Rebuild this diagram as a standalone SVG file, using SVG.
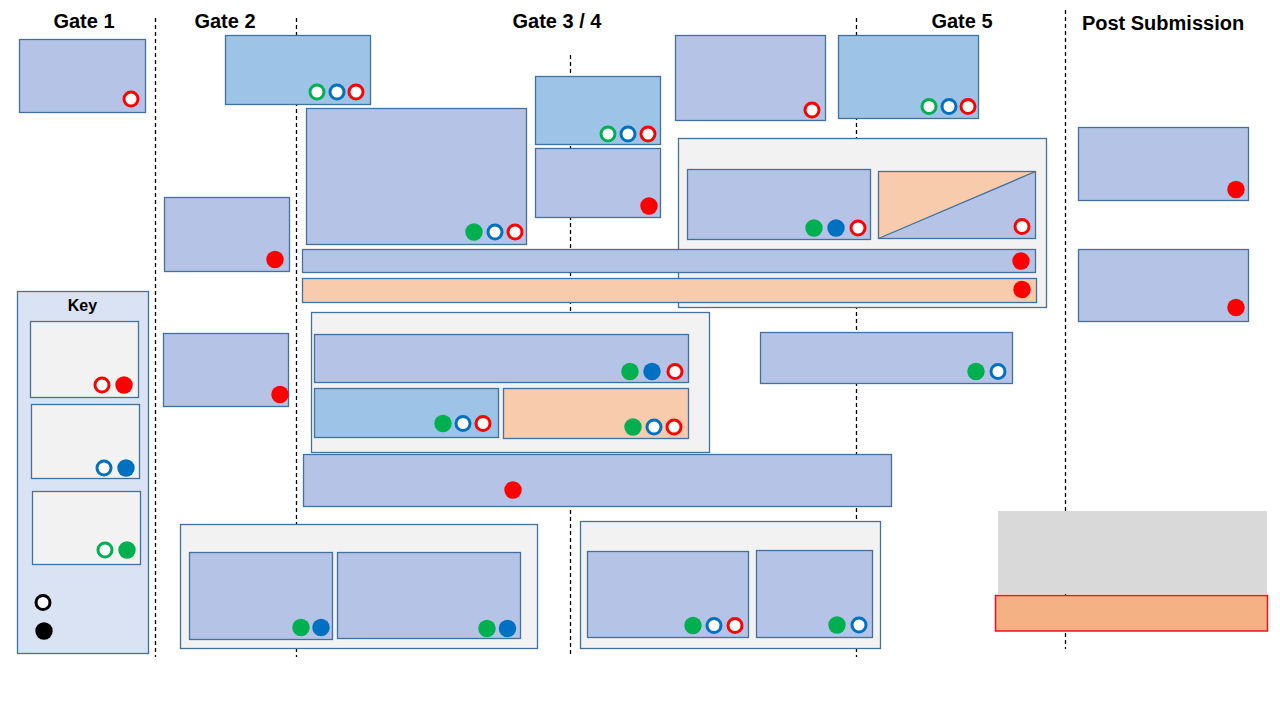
<svg xmlns="http://www.w3.org/2000/svg" width="1280" height="720" viewBox="0 0 1280 720">
<style>
.hdr{font-family:"Liberation Sans",Arial,sans-serif;font-weight:bold;font-size:20px;fill:#000;text-anchor:middle}
.key{font-family:"Liberation Sans",Arial,sans-serif;font-weight:bold;font-size:16px;fill:#000;text-anchor:middle}
.div{stroke:#000;stroke-width:1.3;stroke-dasharray:4 3;fill:none}
.p{fill:#B4C3E6;stroke:#41719C;stroke-width:1.3}
.lb{fill:#9DC3E6;stroke:#41719C;stroke-width:1.3}
.pe{fill:#F8CBAD;stroke:#41719C;stroke-width:1.3}
.ct{fill:#F2F2F2;stroke:#41719C;stroke-width:1.3}
.kb{fill:#DAE3F3;stroke:#41719C;stroke-width:1.3}
.ro{fill:#fff;stroke:#FF0000;stroke-width:3}
.bo{fill:#fff;stroke:#0070C0;stroke-width:3}
.go{fill:#fff;stroke:#00B050;stroke-width:3}
.ko{fill:#fff;stroke:#000;stroke-width:3}
.rf{fill:#FF0000}
.bf{fill:#0070C0}
.gf{fill:#00B050}
.kf{fill:#000}
</style>
<rect width="1280" height="720" fill="#fff"/>

<g id="gate-dividers">
<line class="div" x1="155.5" y1="18" x2="155.5" y2="657"/>
<line class="div" x1="296.5" y1="18" x2="296.5" y2="657"/>
<line class="div" x1="570.5" y1="55" x2="570.5" y2="655"/>
<line class="div" x1="856.5" y1="18" x2="856.5" y2="657"/>
<line class="div" x1="1065.5" y1="10" x2="1065.5" y2="649"/>
</g>

<g id="headers">
<text class="hdr" x="84" y="28">Gate 1</text>
<text class="hdr" x="225" y="28">Gate 2</text>
<text class="hdr" x="557" y="28">Gate 3 / 4</text>
<text class="hdr" x="962" y="28">Gate 5</text>
<text class="hdr" x="1163" y="30">Post Submission</text>
</g>

<g id="connectors"></g>

<g id="key">
<rect class="kb" x="17.5" y="291.5" width="131" height="362"/>
<text class="key" x="82.5" y="311">Key</text>
<rect class="ct" x="30.5" y="321.5" width="108" height="76"/>
<circle class="ro" cx="102" cy="385" r="7"/>
<circle class="rf" cx="124" cy="385" r="8.7"/>
<rect class="ct" x="31.5" y="404.5" width="108" height="74"/>
<circle class="bo" cx="104" cy="468" r="7"/>
<circle class="bf" cx="126" cy="468" r="8.7"/>
<rect class="ct" x="32.5" y="491.5" width="108" height="73"/>
<circle class="go" cx="105" cy="550" r="7"/>
<circle class="gf" cx="127" cy="550" r="8.7"/>
<circle class="ko" cx="43" cy="602.5" r="7"/>
<circle class="kf" cx="44" cy="631" r="8.7"/>
</g>

<g id="g1-box">
<rect class="p" x="19.5" y="39.5" width="126" height="73"/>
<circle class="ro" cx="131" cy="99" r="7"/>
</g>

<g id="g2-top">
<rect class="lb" x="225.5" y="35.5" width="145" height="69"/>
<circle class="go" cx="317" cy="92" r="7"/>
<circle class="bo" cx="337" cy="92" r="7"/>
<circle class="ro" cx="356" cy="92" r="7"/>
</g>

<g id="g2-mid">
<rect class="p" x="164.5" y="197.5" width="125" height="74"/>
<circle class="rf" cx="275" cy="259.5" r="8.7"/>
</g>

<g id="g2-low">
<rect class="p" x="163.5" y="333.5" width="125" height="73"/>
<circle class="rf" cx="280" cy="394.5" r="8.7"/>
</g>

<g id="g3-big">
<rect class="p" x="306.5" y="108.5" width="220" height="136"/>
<circle class="gf" cx="474" cy="232" r="8.7"/>
<circle class="bo" cx="495" cy="232" r="7"/>
<circle class="ro" cx="515" cy="232" r="7"/>
</g>

<g id="g3-top">
<rect class="lb" x="535.5" y="76.5" width="125" height="68"/>
<circle class="go" cx="608" cy="134" r="7"/>
<circle class="bo" cx="628" cy="134" r="7"/>
<circle class="ro" cx="648" cy="134" r="7"/>
</g>

<g id="g3-second">
<rect class="p" x="535.5" y="148.5" width="125" height="69"/>
<circle class="rf" cx="649" cy="206" r="8.7"/>
</g>

<g id="g4-top">
<rect class="p" x="675.5" y="35.5" width="150" height="85"/>
<circle class="ro" cx="812" cy="110" r="7"/>
</g>

<g id="g5-top">
<rect class="lb" x="838.5" y="35.5" width="140" height="83"/>
<circle class="go" cx="929" cy="106.5" r="7"/>
<circle class="bo" cx="949" cy="106.5" r="7"/>
<circle class="ro" cx="968" cy="106.5" r="7"/>
</g>

<g id="g45-container">
<rect class="ct" x="678.5" y="138.5" width="368" height="169"/>
<rect class="p" x="687.5" y="169.5" width="183" height="70"/>
<circle class="gf" cx="814" cy="228" r="8.7"/>
<circle class="bf" cx="836" cy="228" r="8.7"/>
<circle class="ro" cx="858" cy="228" r="7"/>
<g id="split-box">
<rect x="878.5" y="171.5" width="157" height="67" fill="#F8CBAD"/>
<polygon points="878.5,238.5 1035.5,171.5 1035.5,238.5" fill="#B4C3E6"/>
<line x1="878.5" y1="238.5" x2="1035.5" y2="171.5" stroke="#41719C" stroke-width="1.3"/>
<rect x="878.5" y="171.5" width="157" height="67" fill="none" stroke="#41719C" stroke-width="1.3"/>
<circle class="ro" cx="1022" cy="226.5" r="7"/>
</g>
</g>

<g id="long-bar-1">
<rect class="p" x="302.5" y="249.5" width="733" height="23"/>
<circle class="rf" cx="1021" cy="261" r="8.7"/>
</g>

<g id="long-bar-2">
<rect class="pe" x="302.5" y="278.5" width="734" height="24"/>
<circle class="rf" cx="1022" cy="289.5" r="8.7"/>
</g>

<g id="g34-container">
<rect class="ct" x="311.5" y="312.5" width="398" height="140"/>
<rect class="p" x="314.5" y="334.5" width="374" height="48"/>
<circle class="gf" cx="630" cy="371.5" r="8.7"/>
<circle class="bf" cx="652" cy="371.5" r="8.7"/>
<circle class="ro" cx="675" cy="371.5" r="7"/>
<rect class="lb" x="314.5" y="388.5" width="184" height="49"/>
<circle class="gf" cx="443" cy="423.5" r="8.7"/>
<circle class="bo" cx="463" cy="423.5" r="7"/>
<circle class="ro" cx="483" cy="423.5" r="7"/>
<rect class="pe" x="503.5" y="388.5" width="185" height="50"/>
<circle class="gf" cx="633" cy="427" r="8.7"/>
<circle class="bo" cx="654" cy="427" r="7"/>
<circle class="ro" cx="674" cy="427" r="7"/>
</g>

<g id="g5-mid">
<rect class="p" x="760.5" y="332.5" width="252" height="51"/>
<circle class="gf" cx="976" cy="371.5" r="8.7"/>
<circle class="bo" cx="998" cy="371.5" r="7"/>
</g>

<g id="long-bar-3">
<rect class="p" x="303.5" y="454.5" width="588" height="52"/>
<circle class="rf" cx="513" cy="490" r="8.7"/>
</g>

<g id="bottom-left-container">
<rect class="ct" x="180.5" y="524.5" width="357" height="124"/>
<rect class="p" x="189.5" y="552.5" width="143" height="87"/>
<circle class="gf" cx="301" cy="627.5" r="8.7"/>
<circle class="bf" cx="321" cy="627.5" r="8.7"/>
<rect class="p" x="337.5" y="552.5" width="183" height="86"/>
<circle class="gf" cx="487" cy="628.5" r="8.7"/>
<circle class="bf" cx="507.5" cy="628.5" r="8.7"/>
</g>

<g id="bottom-mid-container">
<rect class="ct" x="580.5" y="521.5" width="300" height="127"/>
<rect class="p" x="587.5" y="551.5" width="161" height="86"/>
<circle class="gf" cx="693" cy="625.5" r="8.7"/>
<circle class="bo" cx="714" cy="625.5" r="7"/>
<circle class="ro" cx="735" cy="625.5" r="7"/>
<rect class="p" x="756.5" y="550.5" width="116" height="87"/>
<circle class="gf" cx="837" cy="625" r="8.7"/>
<circle class="bo" cx="859" cy="625" r="7"/>
</g>

<g id="post-1">
<rect class="p" x="1078.5" y="127.5" width="170" height="73"/>
<circle class="rf" cx="1236" cy="189.5" r="8.7"/>
</g>

<g id="post-2">
<rect class="p" x="1078.5" y="249.5" width="170" height="72"/>
<circle class="rf" cx="1236" cy="307.5" r="8.7"/>
</g>

<g id="gray-box">
<rect x="998" y="511" width="269" height="83" fill="#D9D9D9"/>
</g>

<g id="orange-box">
<rect x="995.5" y="595.5" width="272" height="35.5" fill="#F4B183" stroke="#E8161B" stroke-width="1.5"/>
</g>
</svg>
